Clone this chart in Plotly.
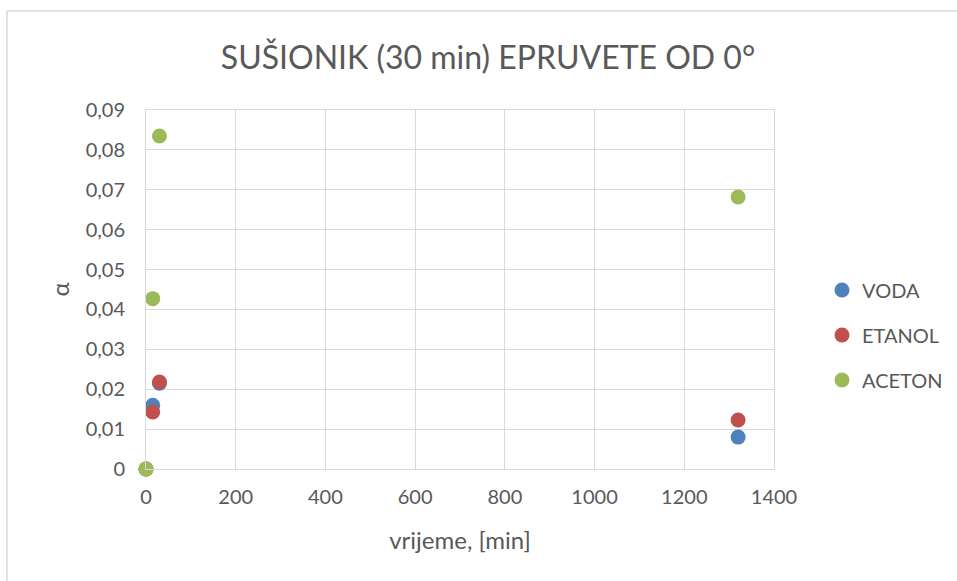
import plotly.graph_objects as go

# Drying-oven measurements: time in minutes and alpha for each liquid
time_min = [0, 15, 30, 1320]
voda = [0, 0.0160, 0.0215, 0.0080]
etanol = [0, 0.0143, 0.0218, 0.0123]
aceton = [0, 0.0427, 0.0835, 0.0682]

series_names = ["VODA", "ETANOL", "ACETON"]
series_colors = ["#4F81BD", "#C0504D", "#9BBB59"]

x_ticks = [0, 200, 400, 600, 800, 1000, 1200, 1400]
y_ticks = [0, 0.01, 0.02, 0.03, 0.04, 0.05, 0.06, 0.07, 0.08, 0.09]
y_tick_text = ["0", "0,01", "0,02", "0,03", "0,04", "0,05", "0,06", "0,07", "0,08", "0,09"]

FONT = "Lato, Calibri, sans-serif"
TXT = "#595959"
GRID = "#D9D9D9"

W, H = 957, 581
L, R, T, B = 146, 957 - 774, 110, 581 - 469
pw, ph = W - L - R, H - T - B

fig = go.Figure()
for name, ys, col in zip(series_names, [voda, etanol, aceton], series_colors):
    fig.add_trace(go.Scatter(
        x=time_min, y=ys, mode="markers", name=name, legendgroup=name,
        marker=dict(size=15, color=col, line=dict(width=0)),
        cliponaxis=False,
    ))

def px_x(p):
    return (p - L) / pw

def px_y(p):
    return (H - B - p) / ph

fig.update_layout(
    width=W, height=H,
    margin=dict(l=L, r=R, t=T, b=B, autoexpand=False),
    paper_bgcolor="white", plot_bgcolor="white",
    font=dict(family=FONT, color=TXT, size=20),
    title=dict(text="SUŠIONIK (30 min) EPRUVETE OD 0°", x=px_x(488), xanchor="center",
               y=1 - 58 / H, yanchor="middle", xref="paper",
               font=dict(size=32, color=TXT, family=FONT)),
    xaxis=dict(range=[0, 1400], tickvals=x_ticks, ticktext=[str(v) for v in x_ticks],
               showgrid=True, gridcolor=GRID, gridwidth=1, zeroline=False,
               showline=True, linecolor=GRID, linewidth=1, mirror=True, ticks="",
               ticklabelstandoff=10, automargin=False,
               tickfont=dict(size=20, color=TXT),
               title=dict(text="vrijeme, [min]", font=dict(size=24, color=TXT), standoff=25)),
    yaxis=dict(range=[0, 0.09], tickvals=y_ticks, ticktext=y_tick_text,
               showgrid=True, gridcolor=GRID, gridwidth=1, zeroline=False,
               showline=True, linecolor=GRID, linewidth=1, mirror=True, ticks="",
               ticklabelstandoff=16, automargin=False,
               tickfont=dict(size=20, color=TXT),
               title=dict(text="α", font=dict(size=24, color=TXT), standoff=9)),
    legend=dict(x=px_x(822), xanchor="left", y=px_y(335), yanchor="middle",
                font=dict(size=20, color=TXT), itemwidth=30, tracegroupgap=16,
                bgcolor="rgba(0,0,0,0)"),
    shapes=[
        dict(type="line", xref="paper", yref="paper",
             x0=px_x(7), x1=px_x(957), y0=px_y(11), y1=px_y(11),
             line=dict(color=GRID, width=1.5)),
        dict(type="line", xref="paper", yref="paper",
             x0=px_x(7), x1=px_x(7), y0=px_y(11), y1=px_y(581),
             line=dict(color=GRID, width=1.5)),
    ],
)

fig.write_html("out.html")
